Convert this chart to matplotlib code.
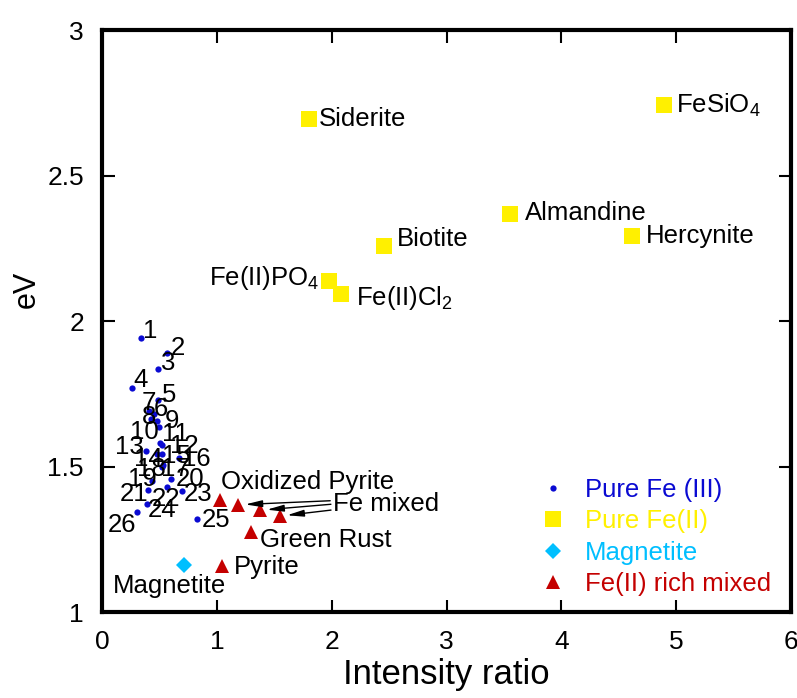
import matplotlib
matplotlib.use("Agg")
import matplotlib.pyplot as plt

plt.rcParams["font.family"] = ["Liberation Sans", "DejaVu Sans"]
plt.rcParams["mathtext.fontset"] = "custom"
plt.rcParams["mathtext.rm"] = "Liberation Sans"
plt.rcParams["mathtext.default"] = "regular"

# Pure Fe(III) samples, numbered 1..26
fe3_labels = [str(i) for i in range(1, 27)]
fe3_x = [0.340, 0.564, 0.490, 0.259, 0.485, 0.456, 0.412, 0.424, 0.482, 0.499,
         0.505, 0.523, 0.381, 0.476, 0.520, 0.671, 0.534, 0.520, 0.438, 0.604,
         0.398, 0.564, 0.694, 0.392, 0.825, 0.305]
fe3_y = [1.942, 1.889, 1.835, 1.769, 1.729, 1.680, 1.692, 1.662, 1.656, 1.635,
         1.582, 1.574, 1.554, 1.543, 1.543, 1.528, 1.505, 1.497, 1.450, 1.456,
         1.419, 1.429, 1.416, 1.370, 1.320, 1.343]

# Pure Fe(II) samples
fe2_labels = ["Siderite", "Biotite", "Fe(II)PO$_4$", "Fe(II)Cl$_2$",
              "FeSiO$_4$", "Almandine", "Hercynite"]
fe2_x = [1.803, 2.459, 1.977, 2.082, 4.895, 3.552, 4.611]
fe2_y = [2.694, 2.258, 2.139, 2.093, 2.741, 2.368, 2.291]

# Magnetite
mag_x = [0.714]
mag_y = [1.162]

# Fe(II) rich mixed
mix_labels = ["Oxidized Pyrite", "", "", "Fe mixed", "Green Rust", "Pyrite"]
mix_x = [1.027, 1.186, 1.375, 1.550, 1.299, 1.048]
mix_y = [1.386, 1.369, 1.350, 1.330, 1.276, 1.159]

# label placement (pixels from the point: dx, dy, horizontal alignment)
fe3_off = [(2, 0), (4, -2), (3, -1), (2, 1), (4, -2), (-1, -2), (-8, 1), (-9, -5),
           (7, -7), (-29, -12), (2, 2), (8, -8), (-31, -3), (-23, -12), (0, -9),
           (3, -8), (-2, -11), (-25, -9), (-24, -5), (4, -7), (-28, -11),
           (-15, -19), (2, -10), (1, -13), (5, -8), (-29, -20)]
fe2_off = [(10, -7, "left"), (12, 0, "left"), (-10, -4, "right"), (15, -11, "left"),
           (12, -7, "left"), (15, -6, "left"), (14, -7, "left")]
mix_off = [(1, 11), None, None, (53, 5), (9, -15), (12, -8)]
# Fe mixed arrows: tail offsets from each triangle
arrow_tails = [(92, 4), (71, 6), (51, 6)]

c_fe3 = "#0a0ad2"
c_fe2 = "#fff000"
c_mag = "#00bfff"
c_mix = "#c40000"
fs = 18.5

fig = plt.figure(figsize=(7.97, 6.98), dpi=100)
ax = fig.add_axes([0.128, 0.123, 0.8645, 0.834])

ax.plot(fe3_x, fe3_y, "o", color=c_fe3, ms=4.5, mew=0, label="Pure Fe (III)")
ax.plot(fe2_x, fe2_y, "s", color=c_fe2, ms=11.3, mew=0, label="Pure Fe(II)")
ax.plot(mag_x, mag_y, "D", color=c_mag, ms=8.2, mew=0, label="Magnetite")
ax.plot(mix_x, mix_y, "^", color=c_mix, ms=10, mew=0, label="Fe(II) rich mixed")

for t, x, y, (dx, dy) in zip(fe3_labels, fe3_x, fe3_y, fe3_off):
    ax.annotate(t, (x, y), xytext=(dx, dy), textcoords="offset pixels",
                ha="left", va="baseline", fontsize=fs)

for t, x, y, (dx, dy, ha) in zip(fe2_labels, fe2_x, fe2_y, fe2_off):
    ax.annotate(t, (x, y), xytext=(dx, dy), textcoords="offset pixels",
                ha=ha, va="baseline", fontsize=fs)

ax.annotate("Magnetite", (mag_x[0], mag_y[0]), xytext=(42, -28),
            textcoords="offset pixels", ha="right", va="baseline", fontsize=fs)

for t, x, y, off in zip(mix_labels, mix_x, mix_y, mix_off):
    if off is None or not t:
        continue
    ax.annotate(t, (x, y), xytext=off, textcoords="offset pixels",
                ha="left", va="baseline", fontsize=fs)

for i, (tx, ty) in enumerate(arrow_tails):
    ax.annotate("", (mix_x[i + 1], mix_y[i + 1]), xytext=(tx, ty),
                textcoords="offset pixels",
                arrowprops=dict(arrowstyle="-|>,head_length=1.0,head_width=0.2",
                                color="black", lw=1, shrinkA=0, shrinkB=5))

ax.set_xlim(0, 6)
ax.set_ylim(1, 3)
ax.set_xticks([0, 1, 2, 3, 4, 5, 6])
ax.set_yticks([1, 1.5, 2, 2.5, 3])
ax.set_yticklabels(["1", "1.5", "2", "2.5", "3"])
ax.tick_params(direction="in", length=9, width=1.5, labelsize=19, pad=13,
               top=True, right=True)
for s in ax.spines.values():
    s.set_linewidth(3)

ax.set_xlabel("Intensity ratio", fontsize=25, labelpad=3)
ax.set_ylabel("eV", fontsize=22)
ax.yaxis.set_label_coords(-0.088, 0.555)

ax.legend(loc="lower left", bbox_to_anchor=(0.636, 0.028), frameon=False,
          fontsize=fs, labelcolor="markerfacecolor", handlelength=1.0,
          handletextpad=0.75, labelspacing=0.28, borderpad=0, borderaxespad=0,
          numpoints=1)

fig.savefig("out.png", dpi=100)
